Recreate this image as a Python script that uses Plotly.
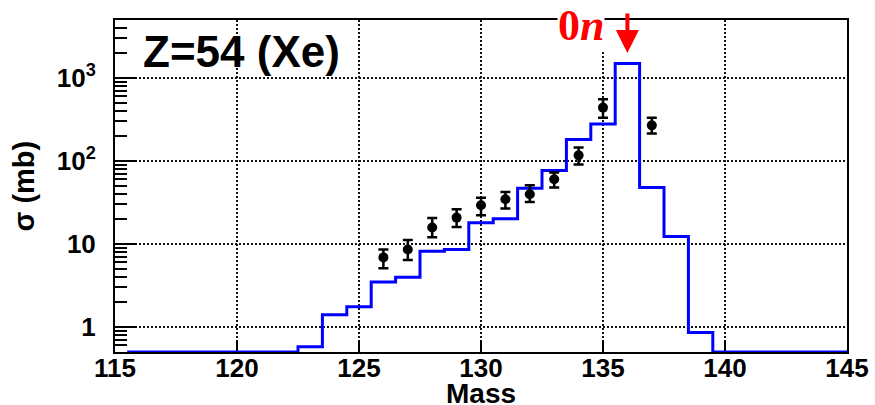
import numpy as np
import plotly.graph_objects as go

# Model cross sections per isotope (bin centred on each mass number)
MASS_BINS = list(range(116, 146))
SIGMA_MODEL = [
    0, 0, 0, 0, 0, 0, 0,          # 116-122
    0.58, 1.41, 1.76, 3.48, 3.97,  # 123-127
    8.2, 8.6, 18.1, 20.2, 47.0,    # 128-132
    77.0, 182.0, 279.0, 1500.0,    # 133-136
    48.0, 12.3, 0.86,              # 137-139
    0, 0, 0, 0, 0, 0,              # 140-145
]

# Measured cross sections with asymmetric errors
MASS_EXP = [126, 127, 128, 129, 130, 131, 132, 133, 134, 135, 137]
SIGMA_EXP = [6.9, 8.6, 15.8, 20.8, 29.3, 34.6, 39.7, 60.2, 117.0, 440.0, 269.0]
ERR_UP = [1.7, 2.6, 4.8, 5.4, 6.9, 7.7, 11.3, 12.3, 28.0, 114.0, 64.0]
ERR_DOWN = [1.8, 2.2, 3.7, 4.8, 7.1, 7.9, 7.6, 12.4, 26.0, 107.0, 55.0]

X_MIN, X_MAX = 115, 145
Y_MIN, Y_MAX = 0.5, 5000
X_TICKS = [115, 120, 125, 130, 135, 140, 145]
Y_TICKS = [1, 10, 100, 1000]
Y_TICKTEXT = ["1", "10", "10<sup>2</sup>", "10<sup>3</sup>"]
Y_MINOR = [k * 10.0 ** d for d in range(-1, 4) for k in range(2, 10)
           if Y_MIN <= k * 10.0 ** d <= Y_MAX]

SANS = "Liberation Sans, Arial, Helvetica, sans-serif"
SERIF = "Liberation Serif, Times New Roman, serif"

# Step outline: bin edges at +-0.5 around each mass; empty bins sit on the floor
edges = [m - 0.5 for m in MASS_BINS] + [MASS_BINS[-1] + 0.5]
model = np.maximum(np.array(SIGMA_MODEL, dtype=float), Y_MIN)
step_y = list(model) + [model[-1]]

fig = go.Figure()
fig.add_trace(go.Scatter(
    x=edges, y=step_y, mode="lines", line_shape="hv",
    line=dict(color="#0000ff", width=3), hoverinfo="skip",
))
fig.add_trace(go.Scatter(
    x=MASS_EXP, y=SIGMA_EXP, mode="markers",
    marker=dict(color="black", size=10, symbol="circle"),
    error_y=dict(type="data", symmetric=False, array=ERR_UP, arrayminus=ERR_DOWN,
                 color="black", thickness=2.5, width=5),
))

grid = dict(showgrid=True, gridcolor="#111111", gridwidth=2, griddash="2px,2px")
frame = dict(showline=True, linecolor="black", linewidth=2, mirror=True,
             zeroline=False, layer="below traces")

fig.update_layout(
    width=875, height=405,
    margin=dict(l=115, r=28, t=20, b=53),
    paper_bgcolor="white", plot_bgcolor="white",
    showlegend=False,
    font=dict(family=SANS, color="black"),
    xaxis=dict(
        range=[X_MIN, X_MAX], tickmode="array", tickvals=X_TICKS,
        ticks="inside", ticklen=11, tickwidth=2, tickcolor="black",
        tickfont=dict(size=26, weight="bold"), ticklabelstandoff=-8,
        automargin=False,
        **grid, **frame,
    ),
    yaxis=dict(
        type="log", range=[np.log10(Y_MIN), np.log10(Y_MAX)],
        tickmode="array", tickvals=Y_TICKS, ticktext=Y_TICKTEXT,
        ticks="inside", ticklen=22, tickwidth=2, tickcolor="black",
        tickfont=dict(size=26, weight="bold"), ticklabelstandoff=12,
        minor=dict(tickmode="array", tickvals=Y_MINOR, ticks="inside",
                   ticklen=12, tickwidth=2, tickcolor="black", showgrid=False),
        automargin=False,
        **grid, **frame,
    ),
)

fig.add_annotation(
    text="Mass", xref="paper", yref="paper",
    x=0.5, y=-0.124, xanchor="center", yanchor="middle", showarrow=False,
    font=dict(size=28, weight="bold"),
)
fig.add_annotation(
    text="σ (mb)", textangle=-90, xref="paper", yref="paper",
    x=-0.125, y=0.5, xanchor="center", yanchor="middle", showarrow=False,
    font=dict(size=29, weight="bold"),
)
fig.add_annotation(
    text="Z=54 (Xe)", xref="paper", yref="paper",
    x=0.036, y=0.904, xanchor="left", yanchor="middle", showarrow=False,
    font=dict(size=44, weight="bold"),
)
fig.add_annotation(
    text="0<i>n</i>", xref="paper", yref="paper",
    x=0.637, y=0.982, xanchor="center", yanchor="middle", showarrow=False,
    bgcolor="white", borderpad=0,
    font=dict(family=SERIF, size=44, weight="bold", color="#ff0000"),
)
fig.add_annotation(
    text="", x=136, xref="x", y=0.9006, yref="paper",
    showarrow=True, arrowhead=2, arrowsize=1.15, arrowwidth=4,
    arrowcolor="#ff0000", ax=0, ay=-41,
)

fig.write_html("out.html")
